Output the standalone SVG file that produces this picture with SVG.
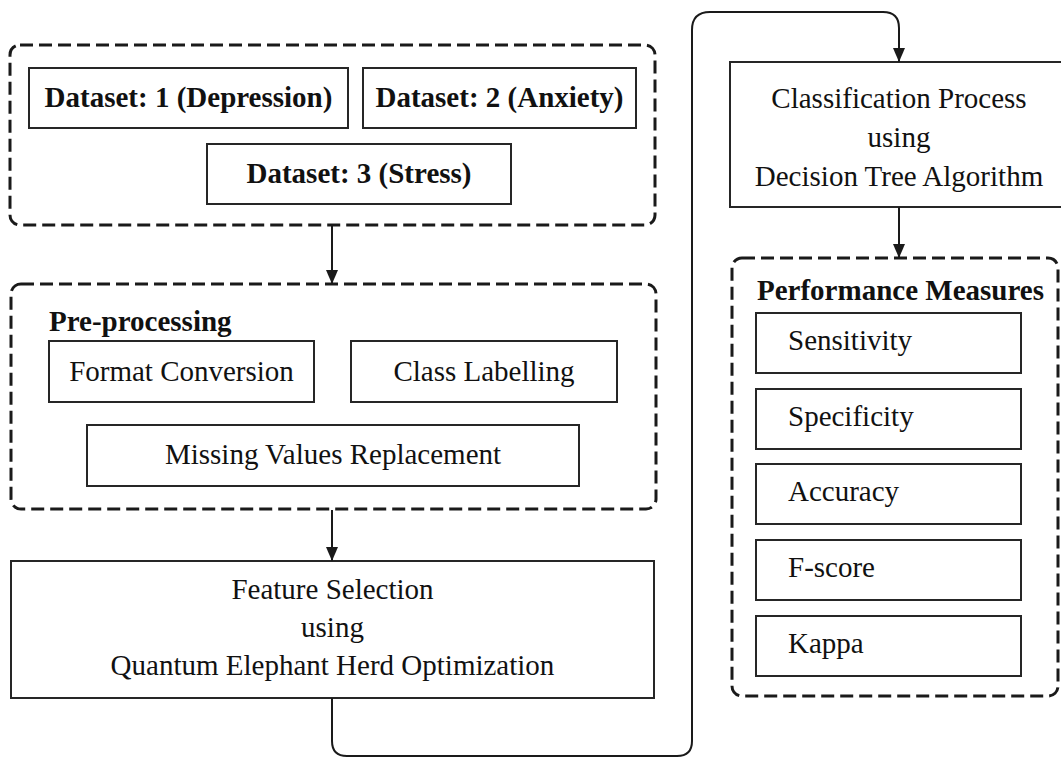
<svg xmlns="http://www.w3.org/2000/svg" width="1061" height="758" viewBox="0 0 1061 758">
  <style>
    .grp { fill: none; stroke: #1a1a1a; stroke-width: 3; stroke-dasharray: 13 6; }
    .box { fill: #ffffff; stroke: #262626; stroke-width: 2; }
    .lbl { font-family: "Liberation Serif", "Times New Roman", serif; font-size: 29px; fill: #111111; }
    .bold { font-weight: bold; }
    .mid { text-anchor: middle; }
    .wire { fill: none; stroke: #1a1a1a; stroke-width: 2; }
  </style>
  <defs>
    <marker id="head" viewBox="0 0 14 12" refX="14" refY="6" markerWidth="14" markerHeight="12" markerUnits="userSpaceOnUse" orient="auto">
      <path d="M0,0 L14,6 L0,12 Z" fill="#1a1a1a"/>
    </marker>
  </defs>
  <rect width="1061" height="758" fill="#ffffff"/>

  <!-- Datasets group -->
  <g id="datasets">
    <rect class="grp" x="10" y="45" width="645" height="180" rx="10"/>
    <g id="dataset1">
      <rect class="box" x="29" y="68" width="319" height="60"/>
      <text class="lbl bold mid" x="188.5" y="107">Dataset: 1 (Depression)</text>
    </g>
    <g id="dataset2">
      <rect class="box" x="363" y="68" width="273" height="60"/>
      <text class="lbl bold mid" x="499.5" y="107">Dataset: 2 (Anxiety)</text>
    </g>
    <g id="dataset3">
      <rect class="box" x="207" y="144" width="304" height="60"/>
      <text class="lbl bold mid" x="359" y="183">Dataset: 3 (Stress)</text>
    </g>
  </g>

  <!-- Pre-processing group -->
  <g id="preprocessing">
    <rect class="grp" x="11" y="284" width="645" height="225" rx="10"/>
    <text class="lbl bold" x="49" y="331">Pre-processing</text>
    <g id="format-conversion">
      <rect class="box" x="49" y="341" width="265" height="61"/>
      <text class="lbl mid" x="181.5" y="381">Format Conversion</text>
    </g>
    <g id="class-labelling">
      <rect class="box" x="351" y="341" width="266" height="61"/>
      <text class="lbl mid" x="484" y="381">Class Labelling</text>
    </g>
    <g id="missing-values">
      <rect class="box" x="87" y="425" width="492" height="61"/>
      <text class="lbl mid" x="333" y="464">Missing Values Replacement</text>
    </g>
  </g>

  <!-- Feature selection -->
  <g id="feature-selection">
    <rect class="box" x="11" y="561" width="643" height="137"/>
    <text class="lbl mid" x="332.5" y="599">Feature Selection</text>
    <text class="lbl mid" x="332.5" y="637">using</text>
    <text class="lbl mid" x="332.5" y="675">Quantum Elephant Herd Optimization</text>
  </g>

  <!-- Classification -->
  <g id="classification">
    <rect class="box" x="730" y="62" width="338" height="145"/>
    <text class="lbl mid" x="899" y="108">Classification Process</text>
    <text class="lbl mid" x="899" y="147">using</text>
    <text class="lbl mid" x="899" y="186">Decision Tree Algorithm</text>
  </g>

  <!-- Performance measures group -->
  <g id="performance">
    <rect class="grp" x="732" y="258" width="326" height="438" rx="10"/>
    <text class="lbl bold" x="757" y="300">Performance Measures</text>
    <g id="sensitivity">
      <rect class="box" x="756" y="313" width="265" height="60"/>
      <text class="lbl" x="788" y="350">Sensitivity</text>
    </g>
    <g id="specificity">
      <rect class="box" x="756" y="389" width="265" height="60"/>
      <text class="lbl" x="788" y="426">Specificity</text>
    </g>
    <g id="accuracy">
      <rect class="box" x="756" y="464" width="265" height="60"/>
      <text class="lbl" x="788" y="501">Accuracy</text>
    </g>
    <g id="fscore">
      <rect class="box" x="756" y="540" width="265" height="60"/>
      <text class="lbl" x="788" y="577">F-score</text>
    </g>
    <g id="kappa">
      <rect class="box" x="756" y="616" width="265" height="60"/>
      <text class="lbl" x="788" y="653">Kappa</text>
    </g>
  </g>

  <!-- Connectors -->
  <g id="connectors">
    <path class="wire" d="M332,226 L332,284" marker-end="url(#head)"/>
    <path class="wire" d="M332,510 L332,561" marker-end="url(#head)"/>
    <path class="wire" d="M332,698 L332,741 Q332,756 347,756 L677,756 Q692,756 692,741 L692,30 Q692,12 710,12 L883,12 Q899,12 899,28 L899,62" marker-end="url(#head)"/>
    <path class="wire" d="M899,207 L899,258" marker-end="url(#head)"/>
  </g>
</svg>
